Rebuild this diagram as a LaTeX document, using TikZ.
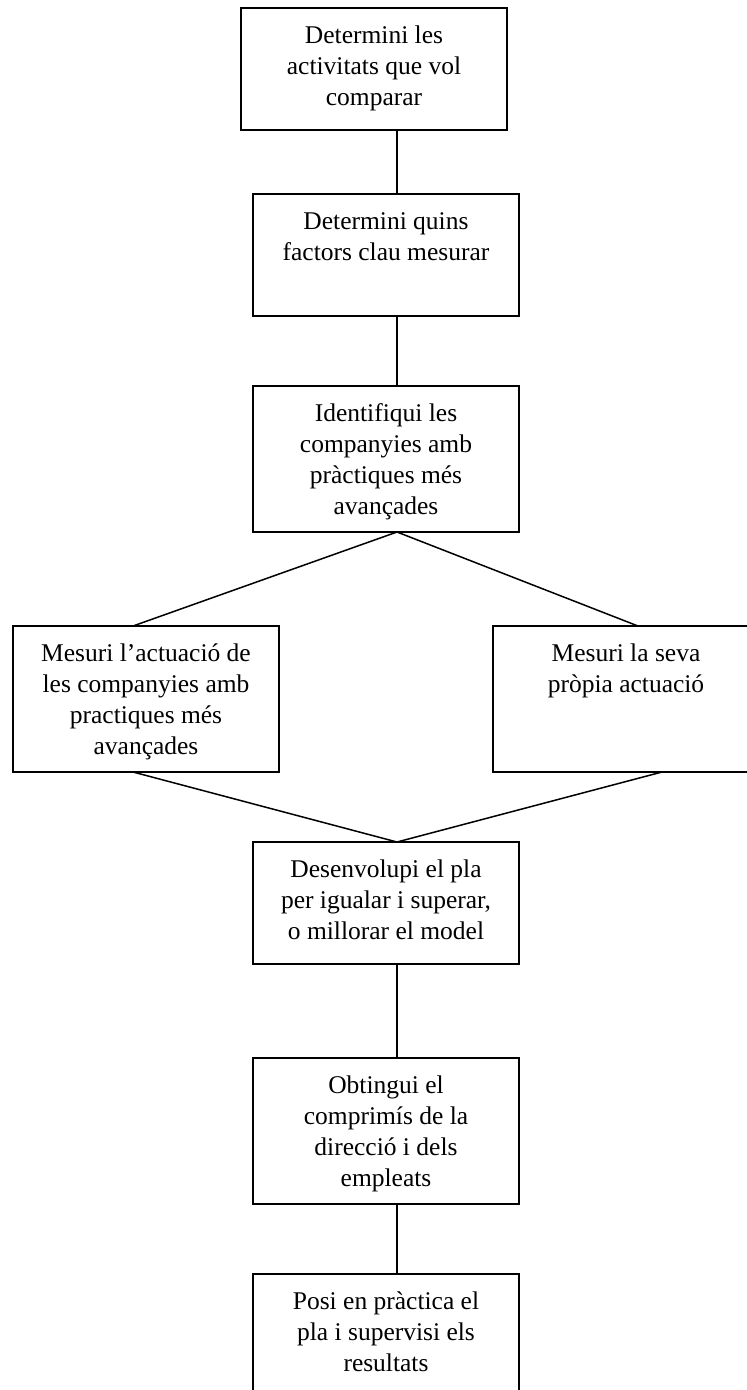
\documentclass[tikz,border=0pt]{standalone}
\usepackage{fontspec}
\setmainfont{Liberation Serif}
\tikzset{
  stepbox/.style={draw, line width=1.5pt, inner sep=0pt, outer sep=0pt, anchor=north west},
  link/.style={line width=1.5pt},
}
\newcommand{\boxtxt}[2]{\parbox[c][#1][t]{266pt}{\centering\fontsize{25.5}{31}\selectfont\rule{0pt}{35pt}#2\par}}
\begin{document}
\begin{tikzpicture}[x=1pt,y=-1pt]
\useasboundingbox (0,0) rectangle (747,1390);
\clip (0,0) rectangle (747,1390);
\node[stepbox] (b1) at (241,8) {\boxtxt{122pt}{Determini les\\activitats que vol\\comparar}};
\node[stepbox] (b2) at (253,194) {\boxtxt{122pt}{Determini quins\\factors clau mesurar}};
\node[stepbox] (b3) at (253,386) {\boxtxt{146pt}{Identifiqui les\\companyies amb\\pràctiques més\\avançades}};
\node[stepbox] (b4) at (13,626) {\boxtxt{146pt}{Mesuri l’actuació de\\les companyies amb\\practiques més\\avançades}};
\node[stepbox] (b5) at (493,626) {\boxtxt{146pt}{Mesuri la seva\\pròpia actuació}};
\node[stepbox] (b6) at (253,842) {\boxtxt{122pt}{Desenvolupi el pla\\per igualar i superar,\\o millorar el model}};
\node[stepbox] (b7) at (253,1058) {\boxtxt{146pt}{Obtingui el\\comprimís de la\\direcció i dels\\empleats}};
\node[stepbox] (b8) at (253,1274) {\boxtxt{122pt}{Posi en pràctica el\\pla i supervisi els\\resultats}};
\coordinate (ax) at (397,0);
\coordinate (l4) at (133,0);
\coordinate (t5) at (638,0);
\coordinate (s5) at (662,0);
\draw[link] (b1.south -| ax) -- (b2.north -| ax);
\draw[link] (b2.south -| ax) -- (b3.north -| ax);
\draw[link] (b4.north -| l4) -- (b3.south -| ax) -- (b5.north -| t5);
\draw[link] (b4.south -| l4) -- (b6.north -| ax) -- (b5.south -| s5);
\draw[link] (b6.south -| ax) -- (b7.north -| ax);
\draw[link] (b7.south -| ax) -- (b8.north -| ax);
\end{tikzpicture}
\end{document}
